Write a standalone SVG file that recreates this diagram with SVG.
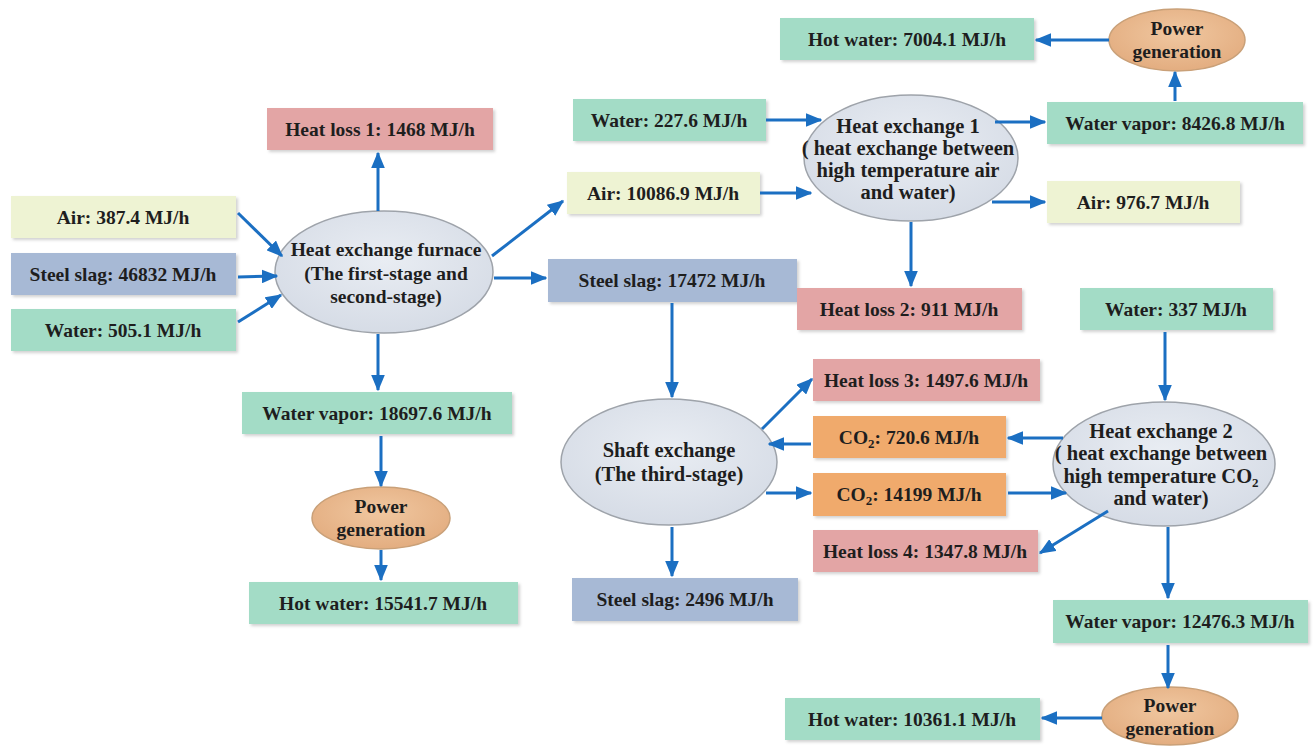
<svg xmlns="http://www.w3.org/2000/svg" width="1315" height="750" viewBox="0 0 1315 750" font-family="'Liberation Serif', 'Times New Roman', serif">
<defs>
<marker id="ah" viewBox="0 0 12 10" refX="11" refY="5" markerWidth="5.5" markerHeight="4.6" orient="auto" markerUnits="strokeWidth">
<path d="M0,0 L12,5 L0,10 z" fill="#1b6fc2"/>
</marker>
<filter id="sh" x="-5%" y="-10%" width="115%" height="130%">
<feDropShadow dx="2" dy="2" stdDeviation="1.5" flood-color="#000" flood-opacity="0.18"/>
</filter>
<radialGradient id="gg" cx="50%" cy="40%" r="60%">
<stop offset="0" stop-color="#e9edf3"/>
<stop offset="1" stop-color="#d6dce6"/>
</radialGradient>
<radialGradient id="og" cx="50%" cy="40%" r="60%">
<stop offset="0" stop-color="#f0c7a0"/>
<stop offset="1" stop-color="#e3ad80"/>
</radialGradient>
</defs>
<style>
.b{filter:url(#sh);}
.g{fill:#a3dcc6;}
.y{fill:#eef3d3;}
.bl{fill:#a7b9d5;}
.r{fill:#e3a5a5;}
.o{fill:#f0aa6c;}
.e{fill:url(#gg);stroke:#9ea3aa;stroke-width:1.5;}
.p{fill:url(#og);stroke:#c9a078;stroke-width:1.5;}
text{font-family:"Liberation Serif","Times New Roman",serif;font-weight:bold;font-size:19.5px;fill:#1e1e1e;text-anchor:middle;}
.et{font-size:20.5px;}
.c line{stroke:#1b6fc2;stroke-width:3;marker-end:url(#ah);}
</style>
<rect width="1315" height="750" fill="#fff"/>

<g id="hotwater1"><rect class="b g" x="780" y="18" width="254" height="42"/><text x="907" y="46">Hot water: 7004.1 MJ/h</text></g>
<g id="power1"><ellipse class="p" cx="1177" cy="40" rx="68" ry="31"/><text x="1177" y="35">Power</text><text x="1177" y="58">generation</text></g>
<g id="water227"><rect class="b g" x="573" y="99" width="193" height="42"/><text x="669" y="127">Water: 227.6 MJ/h</text></g>
<g id="he1"><ellipse class="e" cx="911" cy="158" rx="107" ry="63"/><text class="et" x="908" y="133">Heat exchange 1</text><text class="et" x="908" y="155">( heat exchange between</text><text class="et" x="908" y="177">high temperature air</text><text class="et" x="908" y="199">and water)</text></g>
<g id="vapor8426"><rect class="b g" x="1047" y="102" width="256" height="42"/><text x="1175" y="130">Water vapor: 8426.8 MJ/h</text></g>
<g id="loss1"><rect class="b r" x="267" y="108" width="226" height="42"/><text x="380" y="136">Heat loss 1: 1468 MJ/h</text></g>
<g id="air387"><rect class="b y" x="11" y="196" width="225" height="42"/><text x="123" y="224">Air: 387.4 MJ/h</text></g>
<g id="slag46832"><rect class="b bl" x="11" y="253" width="225" height="42"/><text x="123" y="281">Steel slag: 46832 MJ/h</text></g>
<g id="water505"><rect class="b g" x="11" y="309" width="225" height="42"/><text x="123" y="337">Water: 505.1 MJ/h</text></g>
<g id="furnace"><ellipse class="e" cx="384" cy="272" rx="109" ry="61"/><text x="386" y="256">Heat exchange furnace</text><text x="386" y="280">(The first-stage and</text><text x="386" y="303">second-stage)</text></g>
<g id="air10086"><rect class="b y" x="567" y="172" width="193" height="42"/><text x="663" y="200">Air: 10086.9 MJ/h</text></g>
<g id="air976"><rect class="b y" x="1047" y="181" width="193" height="42"/><text x="1143" y="209">Air: 976.7 MJ/h</text></g>
<g id="slag17472"><rect class="b bl" x="548" y="259" width="249" height="43"/><text x="672" y="287">Steel slag: 17472 MJ/h</text></g>
<g id="loss2"><rect class="b r" x="797" y="288" width="225" height="42"/><text x="909" y="316">Heat loss 2: 911 MJ/h</text></g>
<g id="water337"><rect class="b g" x="1080" y="288" width="193" height="42"/><text x="1176" y="316">Water: 337 MJ/h</text></g>
<g id="loss3"><rect class="b r" x="813" y="359" width="227" height="42"/><text x="926" y="387">Heat loss 3: 1497.6 MJ/h</text></g>
<g id="vapor18697"><rect class="b g" x="242" y="392" width="270" height="42"/><text x="377" y="420">Water vapor: 18697.6 MJ/h</text></g>
<g id="co2a"><rect class="b o" x="813" y="416" width="193" height="42"/><text x="909" y="444">CO<tspan font-size="13" dy="4">2</tspan><tspan dy="-4">: 720.6 MJ/h</tspan></text></g>
<g id="shaft"><ellipse class="e" cx="669" cy="462" rx="108" ry="63"/><text class="et" x="669" y="457">Shaft exchange</text><text class="et" x="669" y="481">(The third-stage)</text></g>
<g id="co2b"><rect class="b o" x="813" y="473" width="193" height="43"/><text x="909" y="501">CO<tspan font-size="13" dy="4">2</tspan><tspan dy="-4">: 14199 MJ/h</tspan></text></g>
<g id="he2"><ellipse class="e" cx="1164" cy="464" rx="111" ry="62"/><text class="et" x="1161" y="438">Heat exchange 2</text><text class="et" x="1161" y="460">( heat exchange between</text><text class="et" x="1161" y="483">high temperature CO<tspan font-size="13" dy="4">2</tspan></text><text class="et" x="1161" y="505">and water)</text></g>
<g id="loss4"><rect class="b r" x="813" y="530" width="225" height="42"/><text x="925" y="558">Heat loss 4: 1347.8 MJ/h</text></g>
<g id="power2"><ellipse class="p" cx="381" cy="518" rx="69" ry="31"/><text x="381" y="513">Power</text><text x="381" y="536">generation</text></g>
<g id="slag2496"><rect class="b bl" x="572" y="578" width="226" height="43"/><text x="685" y="606">Steel slag: 2496 MJ/h</text></g>
<g id="hotwater2"><rect class="b g" x="249" y="582" width="269" height="42"/><text x="383" y="610">Hot water: 15541.7 MJ/h</text></g>
<g id="vapor12476"><rect class="b g" x="1053" y="600" width="255" height="43"/><text x="1180" y="628">Water vapor: 12476.3 MJ/h</text></g>
<g id="power3"><ellipse class="p" cx="1170" cy="716" rx="68" ry="29"/><text x="1170" y="712">Power</text><text x="1170" y="735">generation</text></g>
<g id="hotwater3"><rect class="b g" x="785" y="698" width="255" height="42"/><text x="912" y="726">Hot water: 10361.1 MJ/h</text></g>

<g id="connectors" class="c">
<line x1="238" y1="213" x2="282" y2="256"/>
<line x1="238" y1="277" x2="277" y2="276"/>
<line x1="238" y1="322" x2="281" y2="295"/>
<line x1="378" y1="211" x2="378" y2="153"/>
<line x1="492" y1="256" x2="563" y2="201"/>
<line x1="494" y1="278" x2="546" y2="278"/>
<line x1="378" y1="334" x2="378" y2="390"/>
<line x1="381" y1="436" x2="381" y2="486"/>
<line x1="381" y1="550" x2="381" y2="580"/>
<line x1="766" y1="120" x2="821" y2="120"/>
<line x1="760" y1="193" x2="811" y2="193"/>
<line x1="995" y1="122" x2="1045" y2="122"/>
<line x1="992" y1="202" x2="1045" y2="202"/>
<line x1="911" y1="222" x2="911" y2="286"/>
<line x1="1175" y1="101" x2="1175" y2="72"/>
<line x1="1109" y1="40" x2="1036" y2="40"/>
<line x1="672" y1="303" x2="672" y2="397"/>
<line x1="762" y1="429" x2="812" y2="379"/>
<line x1="811" y1="444" x2="769" y2="444"/>
<line x1="766" y1="493" x2="811" y2="493"/>
<line x1="1063" y1="438" x2="1008" y2="438"/>
<line x1="1008" y1="493" x2="1066" y2="493"/>
<line x1="1108" y1="511" x2="1040" y2="553"/>
<line x1="1165" y1="332" x2="1165" y2="400"/>
<line x1="1168" y1="527" x2="1168" y2="598"/>
<line x1="1168" y1="645" x2="1168" y2="688"/>
<line x1="1102" y1="718" x2="1042" y2="718"/>
<line x1="672" y1="527" x2="672" y2="576"/>
</g>
</svg>
